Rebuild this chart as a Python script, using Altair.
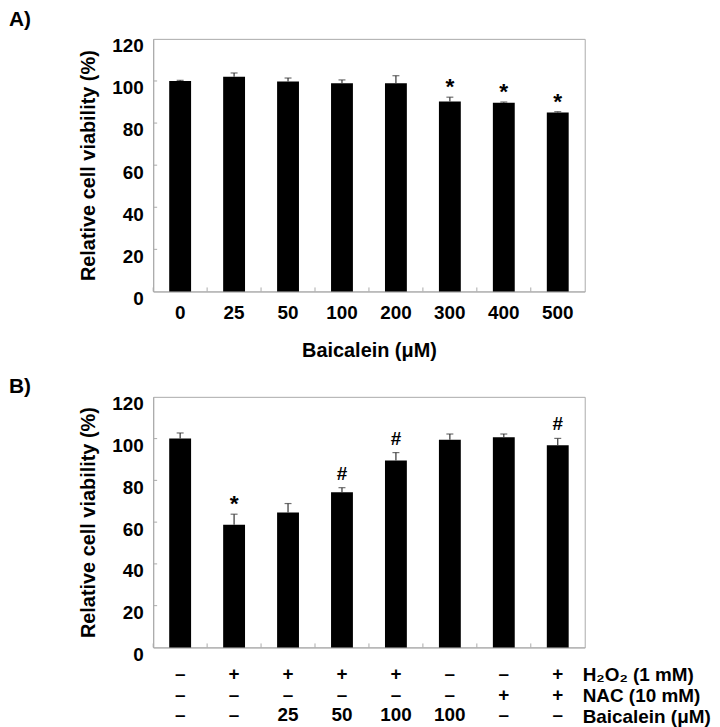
import altair as alt
import pandas as pd

# ---- Panel A data ----
conc_a = ["0", "25", "50", "100", "200", "300", "400", "500"]
mean_a = [100.0, 102.0, 99.7, 98.9, 98.9, 90.2, 89.6, 85.0]
sd_a = [0.3, 1.8, 1.7, 1.6, 3.6, 2.1, 0.4, 0.4]
sig_a = ["", "", "", "", "", "*", "*", "*"]

# ---- Panel B data ----
h2o2 = ["–", "+", "+", "+", "+", "–", "–", "+"]
nac = ["–", "–", "–", "–", "–", "–", "+", "+"]
baic = ["–", "–", "25", "50", "100", "100", "–", "–"]
mean_b = [100.0, 58.7, 64.6, 74.3, 89.5, 99.4, 100.6, 96.8]
sd_b = [2.7, 5.1, 4.3, 2.2, 3.8, 2.8, 1.6, 3.3]
sig_b = ["", "*", "", "#", "#", "", "", "#"]
row_labels = ["H₂O₂ (1 mM)", "NAC (10 mM)", "Baicalein (μM)"]

y_ticks = [0, 20, 40, 60, 80, 100, 120]

FONT = "Liberation Sans"
W = 434
GRAY = "#aaaaaa"

df_a = pd.DataFrame({"cond": conc_a, "mean": mean_a, "sd": sd_a, "sig": sig_a})
df_a["upper"] = df_a["mean"] + df_a["sd"]

cond_b = [f"{a};{b};{c}" for a, b, c in zip(h2o2, nac, baic)]
df_b = pd.DataFrame({"cond": cond_b, "mean": mean_b, "sd": sd_b, "sig": sig_b})
df_b["upper"] = df_b["mean"] + df_b["sd"]

df_ticks = pd.DataFrame({"v": y_ticks[1:-1]})


def panel(df, order, height, xaxis, letter, letter_y):
    x = alt.X("cond:N", sort=order, axis=xaxis,
              scale=alt.Scale(paddingInner=0, paddingOuter=0))
    yscale = alt.Scale(domain=[0, 120], nice=False, zero=True)
    yaxis = alt.Axis(values=y_ticks, title="Relative cell viability (%)",
                     labelOffset=7, labelPadding=10, titlePadding=13)
    base = alt.Chart(df)
    bars = base.mark_bar(color="black", width=22).encode(
        x=x, y=alt.Y("mean:Q", scale=yscale, axis=yaxis))
    rule = base.mark_rule(color="#333333", strokeWidth=1.2).encode(
        x=x, y="mean:Q", y2="upper:Q")
    cap = base.mark_tick(color="#333333", size=7, thickness=1.2).encode(
        x=x, y="upper:Q")
    star = base.transform_filter("datum.sig == '*'").mark_text(
        baseline="bottom", dy=2, font=FONT, fontSize=23,
        fontWeight="bold", color="black").encode(
        x=x, y="upper:Q", text="sig:N")
    hashm = base.transform_filter("datum.sig == '#'").mark_text(
        baseline="bottom", dy=-4, font=FONT, fontSize=19,
        fontWeight="bold", color="black").encode(
        x=x, y="upper:Q", text="sig:N")
    xticks = base.mark_rule(color=GRAY, strokeWidth=1).encode(
        x=alt.X("cond:N", sort=order, bandPosition=0),
        y=alt.value(height), y2=alt.value(height - 4))
    yticks = alt.Chart(df_ticks).mark_rule(color=GRAY, strokeWidth=1).encode(
        y="v:Q", x=alt.value(0), x2=alt.value(4))
    lab = alt.Chart(pd.DataFrame({"t": [letter]})).mark_text(
        align="left", baseline="middle", fontSize=21, fontWeight="bold",
        font=FONT, color="black").encode(
        text="t:N", x=alt.value(-145), y=alt.value(letter_y))
    return alt.layer(bars, rule, cap, star, hashm, xticks, yticks, lab).properties(
        width=W, height=height)


axis_a = alt.Axis(title="Baicalein (μM)", labelAngle=0, labelPadding=12,
                  titlePadding=18)
chart_a = panel(df_a, conc_a, 254, axis_a, "A)", -19)

axis_b = alt.Axis(title=None, labelAngle=0, labelPadding=17,
                  labelExpr="split(datum.label, ';')", labelLineHeight=21)
chart_b = panel(df_b, cond_b, 252, axis_b, "B)", -10)

row_layers = []
for i, lbl in enumerate(row_labels):
    row_layers.append(
        alt.Chart(pd.DataFrame({"t": [lbl]})).mark_text(
            align="left", baseline="middle", fontSize=19, fontWeight="bold",
            font=FONT, color="black").encode(
            text="t:N", x=alt.value(432), y=alt.value(280 + 21 * i)))
chart_b = alt.layer(chart_b, *row_layers)

chart = alt.vconcat(chart_a, chart_b, spacing=14).properties(
    padding={"top": -2, "left": 0, "right": 0, "bottom": 0}
).configure_axis(
    labelFont=FONT, labelFontSize=19, labelFontWeight="bold", labelColor="black",
    titleFont=FONT, titleFontSize=20, titleFontWeight="bold", titleColor="black",
    domainColor=GRAY, ticks=False, tickSize=0, grid=False
).configure_view(stroke=GRAY)

chart.save("out.html", embed_options={"renderer": "svg", "actions": False})
